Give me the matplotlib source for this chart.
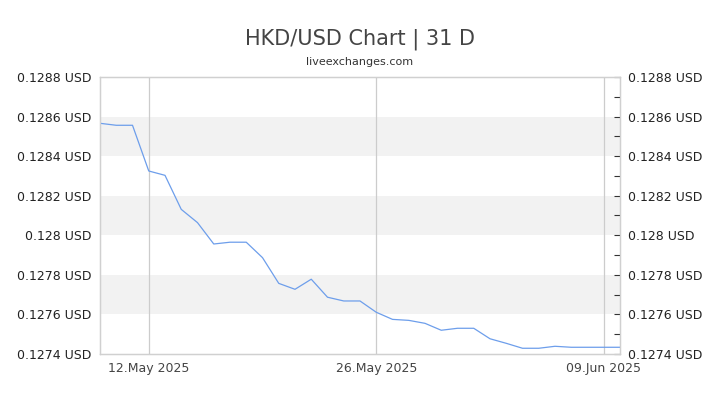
import matplotlib
matplotlib.use("Agg")
import matplotlib.pyplot as plt
import matplotlib.dates as mdates
import numpy as np
import pandas as pd

dates = pd.date_range("2025-05-09", "2025-06-10", freq="D")
rates = [0.128566, 0.128556, 0.128556, 0.128325, 0.128303, 0.128131, 0.128064,
         0.127956, 0.127965, 0.127965, 0.127887, 0.127757, 0.127727, 0.127778,
         0.127687, 0.127668, 0.127668, 0.127611, 0.127575, 0.127570, 0.127555,
         0.127520, 0.127530, 0.127530, 0.127477, 0.127454, 0.127429, 0.127429,
         0.127439, 0.127434, 0.127434, 0.127434, 0.127434]
ytick_vals = [0.1274, 0.1276, 0.1278, 0.1280, 0.1282, 0.1284, 0.1286, 0.1288]
ytick_labels = ["0.1274 USD", "0.1276 USD", "0.1278 USD", "0.128 USD",
                "0.1282 USD", "0.1284 USD", "0.1286 USD", "0.1288 USD"]
xtick_dates = ["2025-05-12", "2025-05-26", "2025-06-09"]
xtick_labels = ["12.May 2025", "26.May 2025", "09.Jun 2025"]
title = "HKD/USD Chart | 31 D"
subtitle = "liveexchanges.com"

fig = plt.figure(figsize=(7.2, 4.05), dpi=100)
ax = fig.add_axes([100/720, 1-354/405, 520/720, 277/405])

x = mdates.date2num(dates)
ax.set_xlim(x[0], x[-1])
ax.set_ylim(ytick_vals[0], ytick_vals[-1])

# alternating bands
for i in range(len(ytick_vals) - 1):
    if i % 2 == 1:
        ax.axhspan(ytick_vals[i], ytick_vals[i+1], color="#f2f2f2", lw=0, zorder=0)

xt = mdates.date2num(pd.to_datetime(xtick_dates))
for v in xt:
    ax.axvline(v, color="#cccccc", lw=0.9, zorder=1)

ax.plot(x, rates, color="#6d9eeb", lw=0.9, zorder=3)

ax.set_xticks(xt)
ax.set_xticklabels(xtick_labels, fontsize=9, color="#444444")
ax.tick_params(axis="x", length=0, pad=6)

ax.set_yticks(ytick_vals)
ax.set_yticklabels(ytick_labels, fontsize=9, color="#222222")
ax.tick_params(axis="y", left=False, length=0, pad=6)

ax2 = ax.twinx()
ax2.set_ylim(ax.get_ylim())
ax2.set_yticks(ytick_vals)
ax2.set_yticklabels(ytick_labels, fontsize=9, color="#222222")
minor = [ytick_vals[0] + 0.0001 * k for k in range(1, 14, 2)]
ax2.set_yticks(minor, minor=True)
ax2.tick_params(axis="y", which="both", direction="in", length=4, width=0.8,
                color="#333333", pad=6)

for a in (ax, ax2):
    for s in a.spines.values():
        s.set_color("#d0d0d0")
        s.set_linewidth(0.9)

fig.text(0.5, 1-39/405, title, ha="center", va="center", fontsize=15, color="#444444")
fig.text(0.5, 1-62/405, subtitle, ha="center", va="center", fontsize=8, color="#333333")

fig.savefig("out.png", dpi=100)
